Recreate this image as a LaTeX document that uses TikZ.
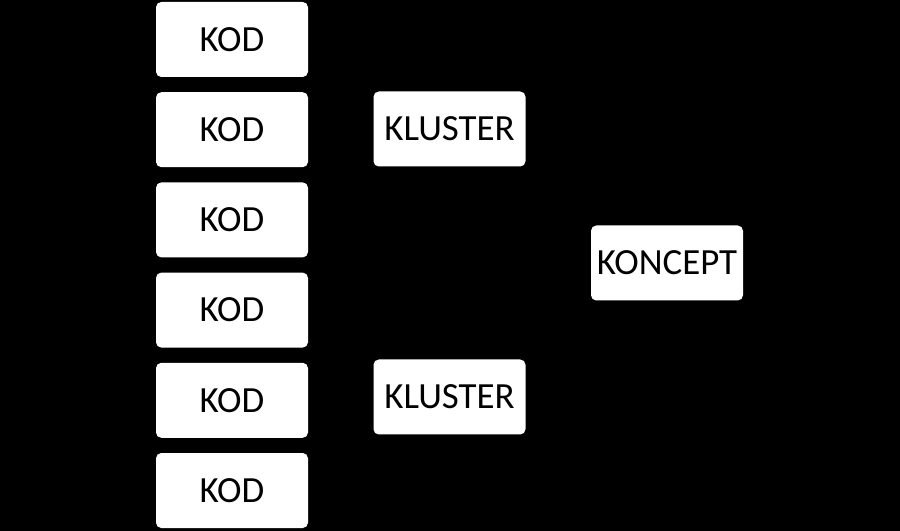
\documentclass[tikz,border=0pt]{standalone}
\usepackage{fontspec}
\setmainfont{Carlito}
\usetikzlibrary{positioning}
\tikzset{
box/.style={fill=white, rounded corners=3pt, minimum width=3.04cm, minimum height=1.5cm, inner sep=0, font=\fontsize{21}{24}\selectfont}
}
\begin{document}
\begin{tikzpicture}[node distance=0.29cm]
\fill[black] (0,0) rectangle (18,10.62);
\useasboundingbox (0,0) rectangle (18,10.62);

\node[box, name=kod1] at (4.64,9.83) {KOD};
\node[box, below=of kod1, name=kod2] {KOD};
\node[box, below=of kod2, name=kod3] {KOD};
\node[box, below=of kod3, name=kod4] {KOD};
\node[box, below=of kod4, name=kod5] {KOD};
\node[box, below=of kod5, name=kod6] {KOD};

\node[box, name=kluster1] at (8.99,8.04) {KLUSTER};
\node[box, name=kluster2] at (8.99,2.68) {KLUSTER};

\node[box, name=koncept] at (13.34,5.36) {KONCEPT};

\end{tikzpicture}
\end{document}
